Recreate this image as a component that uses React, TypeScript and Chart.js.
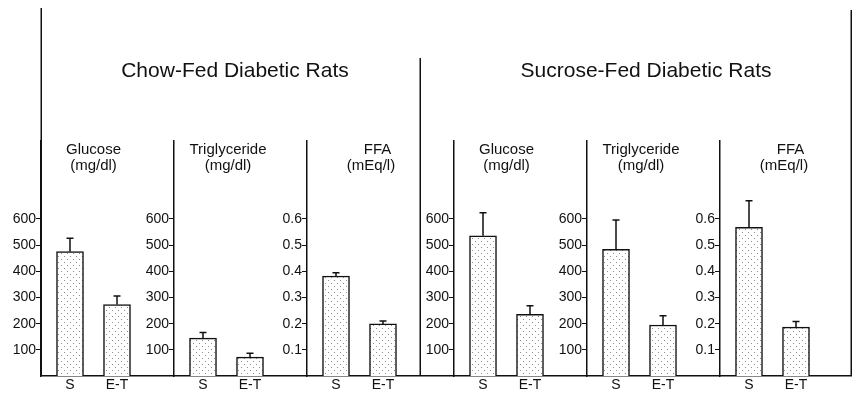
import React, { useEffect, useRef } from "react";
import { Chart, registerables } from "chart.js";

Chart.register(...registerables);

// ---------- data ----------
const GROUP_TITLES = ["Chow-Fed Diabetic Rats", "Sucrose-Fed Diabetic Rats"];
const MEASURES = ["Glucose", "Triglyceride", "FFA"];
const UNITS = ["(mg/dl)", "(mg/dl)", "(mEq/l)"];
const TREATMENTS = ["S", "E-T"];

// means per measure [Glucose, Triglyceride, FFA]
const CHOW_S = [475, 145, 0.382];
const CHOW_ET = [273, 72, 0.199];
const SUCROSE_S = [536, 484, 0.568];
const SUCROSE_ET = [236, 195, 0.187];

// upper error (SE) per measure
const CHOW_S_ERR = [51, 21, 0.013];
const CHOW_ET_ERR = [33, 15, 0.011];
const SUCROSE_S_ERR = [88, 112, 0.102];
const SUCROSE_ET_ERR = [32, 35, 0.021];

const MG_TICKS = [100, 200, 300, 400, 500, 600];
const FFA_TICKS = [0.1, 0.2, 0.3, 0.4, 0.5, 0.6];

// ---------- layout ----------
const PANEL_STEP = 133;
const GROUP_GAP = 14;
const BAR_OFFSETS = [29, 76];
const X_MAX = 810;
const SEPARATOR_X = 379;
const TITLE_X = [194, 605];
const SUB_OFFSETS = [
  [52.5, 52.5],
  [54, 54],
  [70.5, 64],
];
const MG_MAX = 898;
const FFA_MAX = 0.898;
const Y_LABEL_GAP = 5;

const FONT = '"Liberation Sans", Arial, Helvetica, sans-serif';
const INK = "#111";

function makeDotPattern(): CanvasPattern | string {
  const c = document.createElement("canvas");
  c.width = 6;
  c.height = 6;
  const g = c.getContext("2d");
  if (!g) return "#eee";
  g.fillStyle = "#ffffff";
  g.fillRect(0, 0, 6, 6);
  g.fillStyle = "#8c8c8c";
  g.fillRect(1, 1, 1, 1);
  g.fillRect(4, 4, 1, 1);
  const p = g.createPattern(c, "repeat");
  return p || "#eee";
}

function axisX(group: number, measure: number): number {
  const p = group * 3 + measure;
  return p * PANEL_STEP + (group ? GROUP_GAP : 0);
}

// shift y tick labels left of the tick marks (object-positioned axes ignore padding)
function shiftLabels(scale: any) {
  if (scale.__shifted) return;
  scale.__shifted = true;
  const orig = scale._computeLabelItems;
  if (typeof orig !== "function") return;
  scale._computeLabelItems = function (ca: any) {
    const items = orig.call(this, ca);
    items.forEach((it: any) => {
      if (it && it.options && it.options.translation) {
        it.options.translation = [it.options.translation[0] - Y_LABEL_GAP, it.options.translation[1]];
      }
    });
    return items;
  };
}

export default function App() {
  const ref = useRef<HTMLCanvasElement>(null);

  useEffect(() => {
    const canvas = ref.current;
    if (!canvas) return;
    const pattern = makeDotPattern();

    const means = [
      [CHOW_S, CHOW_ET],
      [SUCROSE_S, SUCROSE_ET],
    ];
    const errs = [
      [CHOW_S_ERR, CHOW_ET_ERR],
      [SUCROSE_S_ERR, SUCROSE_ET_ERR],
    ];

    const datasets: any[] = [];
    const scales: any = {};
    const xTickValues: number[] = [];
    const xTickLabels: string[] = [];

    for (let g = 0; g < 2; g++) {
      for (let m = 0; m < 3; m++) {
        const p = g * 3 + m;
        const ax = axisX(g, m);
        const id = "y" + p;
        const isFFA = m === 2;
        const tickVals = isFFA ? FFA_TICKS : MG_TICKS;
        scales[id] = {
          type: "linear",
          position: { x: ax },
          min: 0,
          max: isFFA ? FFA_MAX : MG_MAX,
          afterBuildTicks: (s: any) => {
            s.ticks = tickVals.map((v) => ({ value: v }));
          },
          afterUpdate: (s: any) => shiftLabels(s),
          ticks: {
            callback: (v: any) => (isFFA ? Number(v).toFixed(1) : String(Math.round(Number(v)))),
            font: { family: FONT, size: 14 },
            color: INK,
            padding: 1,
            autoSkip: false,
          },
          grid: {
            display: true,
            drawOnChartArea: false,
            drawTicks: true,
            tickLength: 4,
            color: INK,
            lineWidth: 1,
          },
          border: { display: true, color: INK, width: 1.5 },
        };
        const data = TREATMENTS.map((t, k) => {
          const x = ax + BAR_OFFSETS[k];
          xTickValues.push(x);
          xTickLabels.push(t);
          return { x, y: means[g][k][m] };
        });
        datasets.push({
          label: GROUP_TITLES[g] + " " + MEASURES[m],
          data,
          errors: TREATMENTS.map((_, k) => errs[g][k][m]),
          yAxisID: id,
          xAxisID: "x",
          backgroundColor: pattern,
          borderColor: INK,
          borderWidth: 1.5,
          barThickness: 27,
          grouped: false,
        });
      }
    }

    scales.x = {
      type: "linear",
      position: "bottom",
      offset: false,
      min: 0,
      max: X_MAX,
      afterBuildTicks: (s: any) => {
        s.ticks = xTickValues.map((v) => ({ value: v }));
      },
      afterFit: (s: any) => {
        s.height = 18;
      },
      ticks: {
        callback: (_v: any, i: number) => xTickLabels[i],
        font: { family: FONT, size: 14 },
        color: INK,
        padding: 1,
        autoSkip: false,
        maxRotation: 0,
      },
      grid: { display: true, offset: false, drawOnChartArea: false, drawTicks: false },
      border: { display: true, color: INK, width: 1.5 },
    };

    const errorBars = {
      id: "errorBars",
      afterDatasetsDraw(chart: any) {
        const ctx = chart.ctx;
        ctx.save();
        ctx.strokeStyle = INK;
        ctx.lineWidth = 1.5;
        chart.data.datasets.forEach((ds: any, i: number) => {
          const meta = chart.getDatasetMeta(i);
          const ys = chart.scales[meta.yAxisID];
          meta.data.forEach((el: any, j: number) => {
            const top = ys.getPixelForValue(ds.data[j].y + ds.errors[j]);
            ctx.beginPath();
            ctx.moveTo(el.x, el.y);
            ctx.lineTo(el.x, top);
            ctx.moveTo(el.x - 3.5, top);
            ctx.lineTo(el.x + 3.5, top);
            ctx.stroke();
          });
        });
        ctx.restore();
      },
    };

    const frameAndText = {
      id: "frameAndText",
      afterDraw(chart: any) {
        const ctx = chart.ctx;
        const xs = chart.scales.x;
        const bottom = chart.chartArea.bottom;
        ctx.save();
        ctx.strokeStyle = INK;
        ctx.lineWidth = 1.5;
        const frames = [
          { x: 0, top: 8 },
          { x: SEPARATOR_X, top: 58 },
          { x: X_MAX, top: 10 },
        ];
        frames.forEach((f) => {
          const px = Math.round(xs.getPixelForValue(f.x)) + 0.25;
          ctx.beginPath();
          ctx.moveTo(px, f.top);
          ctx.lineTo(px, bottom);
          ctx.stroke();
        });

        ctx.fillStyle = INK;
        ctx.textAlign = "center";
        ctx.textBaseline = "alphabetic";
        ctx.font = "21px " + FONT;
        GROUP_TITLES.forEach((t, g) => {
          ctx.fillText(t, xs.getPixelForValue(TITLE_X[g]), 77);
        });
        ctx.font = "15px " + FONT;
        for (let g = 0; g < 2; g++) {
          for (let m = 0; m < 3; m++) {
            const ax = axisX(g, m);
            ctx.fillText(MEASURES[m], xs.getPixelForValue(ax + SUB_OFFSETS[m][0]), 154);
            ctx.fillText(UNITS[m], xs.getPixelForValue(ax + SUB_OFFSETS[m][1]), 170);
          }
        }
        ctx.restore();
      },
    };

    const chart = new Chart(canvas, {
      type: "bar",
      data: { datasets },
      options: {
        animation: false,
        responsive: false,
        layout: { padding: { left: 41, right: 4, top: 141, bottom: 0 } },
        plugins: {
          legend: { display: false },
          title: { display: false },
          tooltip: { enabled: false },
        },
        scales,
      },
      plugins: [errorBars, frameAndText],
    } as any);

    return () => chart.destroy();
  }, []);

  return (
    <div style={{ position: "fixed", left: 0, top: 0, width: 855, height: 394, background: "#fff" }}>
      <canvas ref={ref} width={855} height={394} style={{ display: "block" }} />
    </div>
  );
}
